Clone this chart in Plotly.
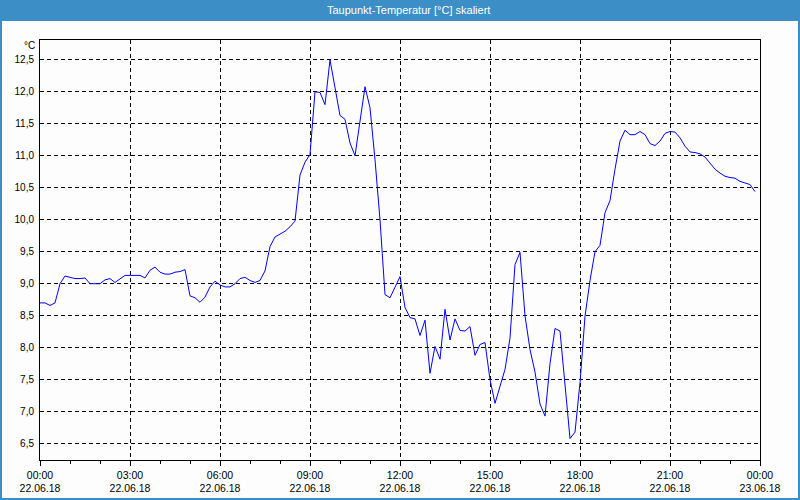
import plotly.graph_objects as go
import pandas as pd

# ---- data (10-minute readings, 22.06.18 00:00 .. 23:50) ----
start_time = "2018-06-22 00:00"
dew_point = [
    8.70, 8.70, 8.66, 8.70, 9.00, 9.12, 9.10, 9.08, 9.08, 9.09,
    9.00, 9.00, 9.00, 9.06, 9.08, 9.02, 9.08, 9.13, 9.13, 9.13,
    9.13, 9.09, 9.21, 9.26, 9.18, 9.15, 9.15, 9.18, 9.19, 9.22,
    8.81, 8.78, 8.71, 8.79, 8.95, 9.04, 8.98, 8.95, 8.95, 9.00,
    9.08, 9.10, 9.05, 9.02, 9.05, 9.20, 9.58, 9.73, 9.77, 9.82,
    9.89, 9.98, 10.70, 10.90, 11.02, 12.00, 11.99, 11.80, 12.50, 12.04,
    11.63, 11.57, 11.20, 11.00, 11.57, 12.08, 11.75, 10.94, 10.00, 8.83,
    8.78, 8.94, 9.11, 8.63, 8.47, 8.45, 8.19, 8.43, 7.60, 8.02,
    7.82, 8.60, 8.12, 8.45, 8.27, 8.26, 8.33, 7.88, 8.05, 8.08,
    7.50, 7.13, 7.40, 7.66, 8.15, 9.30, 9.49, 8.50, 7.97, 7.62,
    7.12, 6.93, 7.75, 8.30, 8.26, 7.43, 6.58, 6.68, 7.45, 8.49,
    9.05, 9.50, 9.60, 10.11, 10.30, 10.79, 11.23, 11.40, 11.33, 11.33,
    11.38, 11.33, 11.19, 11.16, 11.23, 11.35, 11.38, 11.37, 11.28, 11.15,
    11.06, 11.05, 11.03, 10.98, 10.88, 10.79, 10.73, 10.68, 10.66, 10.65,
    10.60, 10.58, 10.55, 10.44,
]
times = pd.date_range(start_time, periods=len(dew_point), freq="10min")

x_tick_vals = ["2018-06-22 00:00", "2018-06-22 03:00", "2018-06-22 06:00",
               "2018-06-22 09:00", "2018-06-22 12:00", "2018-06-22 15:00",
               "2018-06-22 18:00", "2018-06-22 21:00", "2018-06-23 00:00"]
x_tick_text = ["00:00<br>22.06.18", "03:00<br>22.06.18", "06:00<br>22.06.18",
               "09:00<br>22.06.18", "12:00<br>22.06.18", "15:00<br>22.06.18",
               "18:00<br>22.06.18", "21:00<br>22.06.18", "00:00<br>23.06.18"]
y_tick_vals = [6.5, 7.0, 7.5, 8.0, 8.5, 9.0, 9.5, 10.0, 10.5, 11.0, 11.5, 12.0, 12.5]

title_text = "Taupunkt-Temperatur [°C] skaliert"
unit_text = "°C"

# ---- layout constants ----
W, H = 800, 500
ML, MR, MT, MB = 40, 40, 40, 40
PW, PH = W - ML - MR, H - MT - MB
BLUE = "#3C8EC7"
BG = "#FCFDFC"
FONT = "Liberation Sans"

def px_x(p):
    return (p - ML) / PW

def px_y(p):
    return (H - MB - p) / PH

fig = go.Figure()
fig.add_trace(go.Scatter(
    x=times, y=dew_point, mode="lines",
    line=dict(color="#0000FF", width=1),
    hoverinfo="skip", showlegend=False,
))

fig.update_layout(
    width=W, height=H,
    margin=dict(l=ML, r=MR, t=MT, b=MB, pad=0, autoexpand=False),
    paper_bgcolor=BG, plot_bgcolor=BG,
    separators=",.",
    font=dict(family=FONT, size=10, color="black"),
    showlegend=False,
)

fig.update_xaxes(
    type="date", automargin=False,
    range=["2018-06-22 00:00", "2018-06-23 00:00"],
    tickmode="array", tickvals=x_tick_vals, ticktext=x_tick_text,
    ticks="outside", ticklen=5, tickcolor="black", tickwidth=1,
    ticklabelstandoff=0,
    showline=True, linecolor="black", linewidth=1, mirror=True,
    showgrid=True, gridcolor="black", gridwidth=1, griddash="4px,3px",
    zeroline=False,
    tickfont=dict(family=FONT, size=10.5, color="black"),
    minor=dict(dtick=3600000, ticks="outside", ticklen=3, tickcolor="black", showgrid=False),
)

fig.update_yaxes(
    automargin=False,
    range=[6.244, 12.81],
    tickmode="array", tickvals=y_tick_vals, tickformat=".1f",
    ticks="", ticklabelstandoff=3,
    showline=True, linecolor="black", linewidth=1, mirror=True,
    showgrid=True, gridcolor="black", gridwidth=1, griddash="4px,3px",
    zeroline=False,
    tickfont=dict(family=FONT, size=10, color="black"),
)

# title bar and window border
fig.add_shape(type="rect", xref="paper", yref="paper",
              x0=px_x(0), x1=px_x(W), y0=px_y(21), y1=px_y(0),
              fillcolor=BLUE, line=dict(width=0), layer="above")
fig.add_shape(type="rect", xref="paper", yref="paper",
              x0=px_x(1), x1=px_x(W - 1), y0=px_y(H - 1), y1=px_y(1),
              fillcolor="rgba(0,0,0,0)", line=dict(color=BLUE, width=2), layer="above")

fig.add_annotation(text=title_text, xref="paper", yref="paper",
                   x=px_x(408), y=px_y(10), xanchor="center", yanchor="middle",
                   showarrow=False, font=dict(family=FONT, size=11, color="white"))
fig.add_annotation(text=unit_text, xref="paper", yref="paper",
                   x=px_x(37), y=px_y(45.5), xanchor="right", yanchor="middle",
                   showarrow=False, font=dict(family=FONT, size=10, color="black"))

fig.write_html("out.html")
